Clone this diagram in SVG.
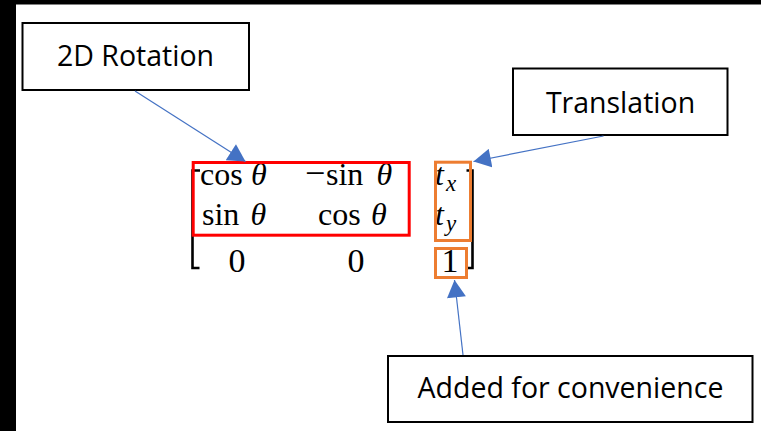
<svg xmlns="http://www.w3.org/2000/svg" width="761" height="431" viewBox="0 0 761 431">
  <defs>
    <style>
      .box { fill: #ffffff; stroke: #000000; stroke-width: 2; }
      .label { font-family: "Open Sans", "Noto Sans", "Liberation Sans", sans-serif; font-size: 28.5px; fill: #000000; text-anchor: middle; }
      .math { font-family: "Liberation Serif", "DejaVu Serif", serif; font-size: 32px; fill: #000000; }
      .it { font-style: italic; }
      .sub { font-size: 23px; font-style: italic; }
      .big { font-size: 34px; }
      .wire { fill: none; stroke: #4472C4; stroke-width: 1.2; }
      .bracket { fill: none; stroke: #000000; stroke-width: 2.6; stroke-linejoin: miter; stroke-linecap: butt; }
      .hl-red { fill: none; stroke: #FF0000; stroke-width: 3; }
      .hl-orange { fill: none; stroke: #ED7D31; stroke-width: 3; }
    </style>
    <marker id="tri" markerUnits="userSpaceOnUse" markerWidth="18" markerHeight="19" viewBox="0 0 17 18.6" refX="17" refY="9.3" orient="auto">
      <path d="M0,0 L17,9.3 L0,18.6 Z" fill="#4472C4"/>
    </marker>
  </defs>

  <!-- page background and dark frame edges -->
  <rect x="0" y="0" width="761" height="431" fill="#ffffff"/>
  <rect x="0" y="0" width="16" height="431" fill="#000000"/>
  <rect x="0" y="0" width="761" height="4.5" fill="#000000"/>

  <!-- homogeneous 2D transform matrix -->
  <g id="matrix" class="math">
    <polyline class="bracket" points="200,170.5 192.5,170.5 192.5,268 199.5,268"/>
    <polyline class="bracket" points="466.5,170.5 472.5,170.5 472.5,268 466.5,268"/>

    <!-- row 1 -->
    <text x="200" y="185">cos</text>
    <text class="it" x="251" y="185">θ</text>
    <text x="305" y="185" font-size="36">−</text>
    <text x="326" y="185">sin</text>
    <text class="it" x="376.5" y="185">θ</text>
    <text x="435" y="185"><tspan class="it">t</tspan><tspan class="sub" dx="2" dy="6">x</tspan></text>

    <!-- row 2 -->
    <text x="202" y="224.5">sin</text>
    <text class="it" x="250.5" y="224.5">θ</text>
    <text x="318" y="224.5">cos</text>
    <text class="it" x="371" y="224.5">θ</text>
    <text x="435" y="224.5"><tspan class="it">t</tspan><tspan class="sub" dx="2" dy="6">y</tspan></text>

    <!-- row 3 -->
    <text class="big" x="237" y="271.5" text-anchor="middle">0</text>
    <text class="big" x="356" y="271.5" text-anchor="middle">0</text>
    <text class="big" x="450" y="271.5" text-anchor="middle">1</text>
  </g>

  <!-- highlight frames -->
  <g id="rotation-block">
    <rect class="hl-red" x="193.2" y="162.5" width="216" height="72.7"/>
  </g>
  <g id="translation-block">
    <rect class="hl-orange" x="435.5" y="162.2" width="35" height="78.3"/>
  </g>
  <g id="unit-entry">
    <rect class="hl-orange" x="435.5" y="248.5" width="31" height="29"/>
  </g>

  <!-- callout boxes -->
  <g id="label-rotation">
    <rect class="box" x="22.5" y="23" width="226.5" height="67"/>
    <text class="label" x="135.5" y="66">2D Rotation</text>
  </g>
  <g id="label-translation">
    <rect class="box" x="513" y="68.5" width="214.5" height="66.5"/>
    <text class="label" x="620.5" y="113">Translation</text>
  </g>
  <g id="label-convenience">
    <rect class="box" x="388" y="356" width="364.5" height="66"/>
    <text class="label" x="570.5" y="398">Added for convenience</text>
  </g>

  <!-- connectors -->
  <g id="connectors">
    <line class="wire" x1="135" y1="91" x2="245.5" y2="161.5" marker-end="url(#tri)"/>
    <line class="wire" x1="603.5" y1="136" x2="473.5" y2="161.5" marker-end="url(#tri)"/>
    <line class="wire" x1="463" y1="355" x2="454.5" y2="280" marker-end="url(#tri)"/>
  </g>
</svg>
